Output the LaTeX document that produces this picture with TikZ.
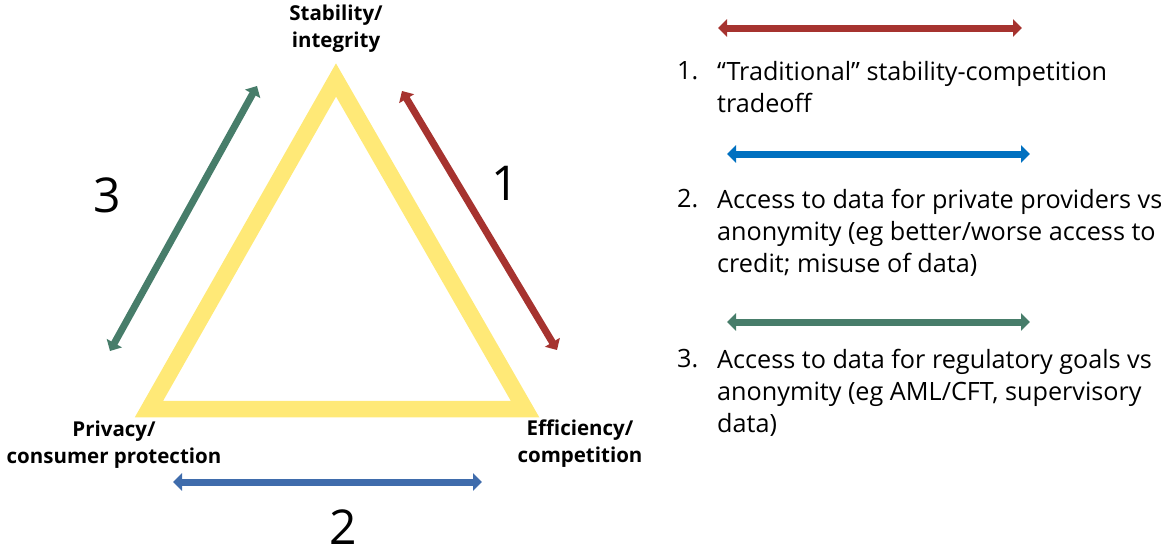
\documentclass[tikz,border=0pt]{standalone}
\usepackage{fontspec}
\setmainfont{Open Sans}
\usetikzlibrary{arrows.meta}
\definecolor{bandyellow}{RGB}{255,233,119}
\definecolor{tred}{RGB}{166,51,47}
\definecolor{tblue}{RGB}{63,108,172}
\definecolor{lblue}{RGB}{0,112,192}
\definecolor{tgreen}{RGB}{71,125,106}
\tikzset{
	trade/.style={line width=7pt,{Triangle[length=9pt,width=17pt]}-{Triangle[length=9pt,width=17pt]}},
	corner/.style={font=\bfseries\fontsize{20.5}{27}\selectfont,align=center,inner sep=0pt},
	num/.style={font=\fontsize{48}{48}\selectfont,inner sep=0pt},
	item/.style={font=\fontsize{25.2}{32}\selectfont,align=left,anchor=north west,inner sep=0pt}
}
\begin{document}
\begin{tikzpicture}[x=1pt,y=-1pt]
	\useasboundingbox(0,0)rectangle(1161,546);
	% the triangle
	\coordinate(top)at(336,80);
	\coordinate(lft)at(149,409);
	\coordinate(rgt)at(525,409);
	\draw[bandyellow,line width=16.5pt,line join=miter](top)--(lft)--(rgt)--cycle;
	\node[corner](stab)at(336,29){Stability/\\integrity};
	\node[corner](priv)at(114,445){Privacy/\\consumer protection};
	\node[corner](effi)at(580,444){Efficiency/\\competition};
	% tradeoffs along the sides
	\coordinate(a1)at(402,91);\coordinate(b1)at(557,350);
	\coordinate(a2)at(173,482);\coordinate(b2)at(482,482);
	\coordinate(a3)at(257,86);\coordinate(b3)at(110,351);
	\draw[trade,tred](a1)--(b1);
	\draw[trade,tblue](a2)--(b2);
	\draw[trade,tgreen](a3)--(b3);
	\node[num](n1)at(505,183){1};
	\node[num](n2)at(343,527){2};
	\node[num](n3)at(107,195){3};
	% legend
	\foreach \i/\c/\a/\b/\y in{1/tred/718/1022/28,2/lblue/727/1030/154,3/tgreen/727/1030/322}{
		\coordinate(l\i)at(\a,\y);\coordinate(r\i)at(\b,\y);
		\draw[trade,\c](l\i)--(r\i);
	}
	\node[item](i1)at(677,61){1.};
	\node[item](t1)at(717,61){“Traditional” stability-competition\\tradeoff};
	\node[item](i2)at(677,189){2.};
	\node[item](t2)at(717,189){Access to data for private providers vs\\anonymity (eg better/worse access to\\credit; misuse of data)};
	\node[item](i3)at(677,349){3.};
	\node[item](t3)at(717,349){Access to data for regulatory goals vs\\anonymity (eg AML/CFT, supervisory\\data)};
\end{tikzpicture}
\end{document}
